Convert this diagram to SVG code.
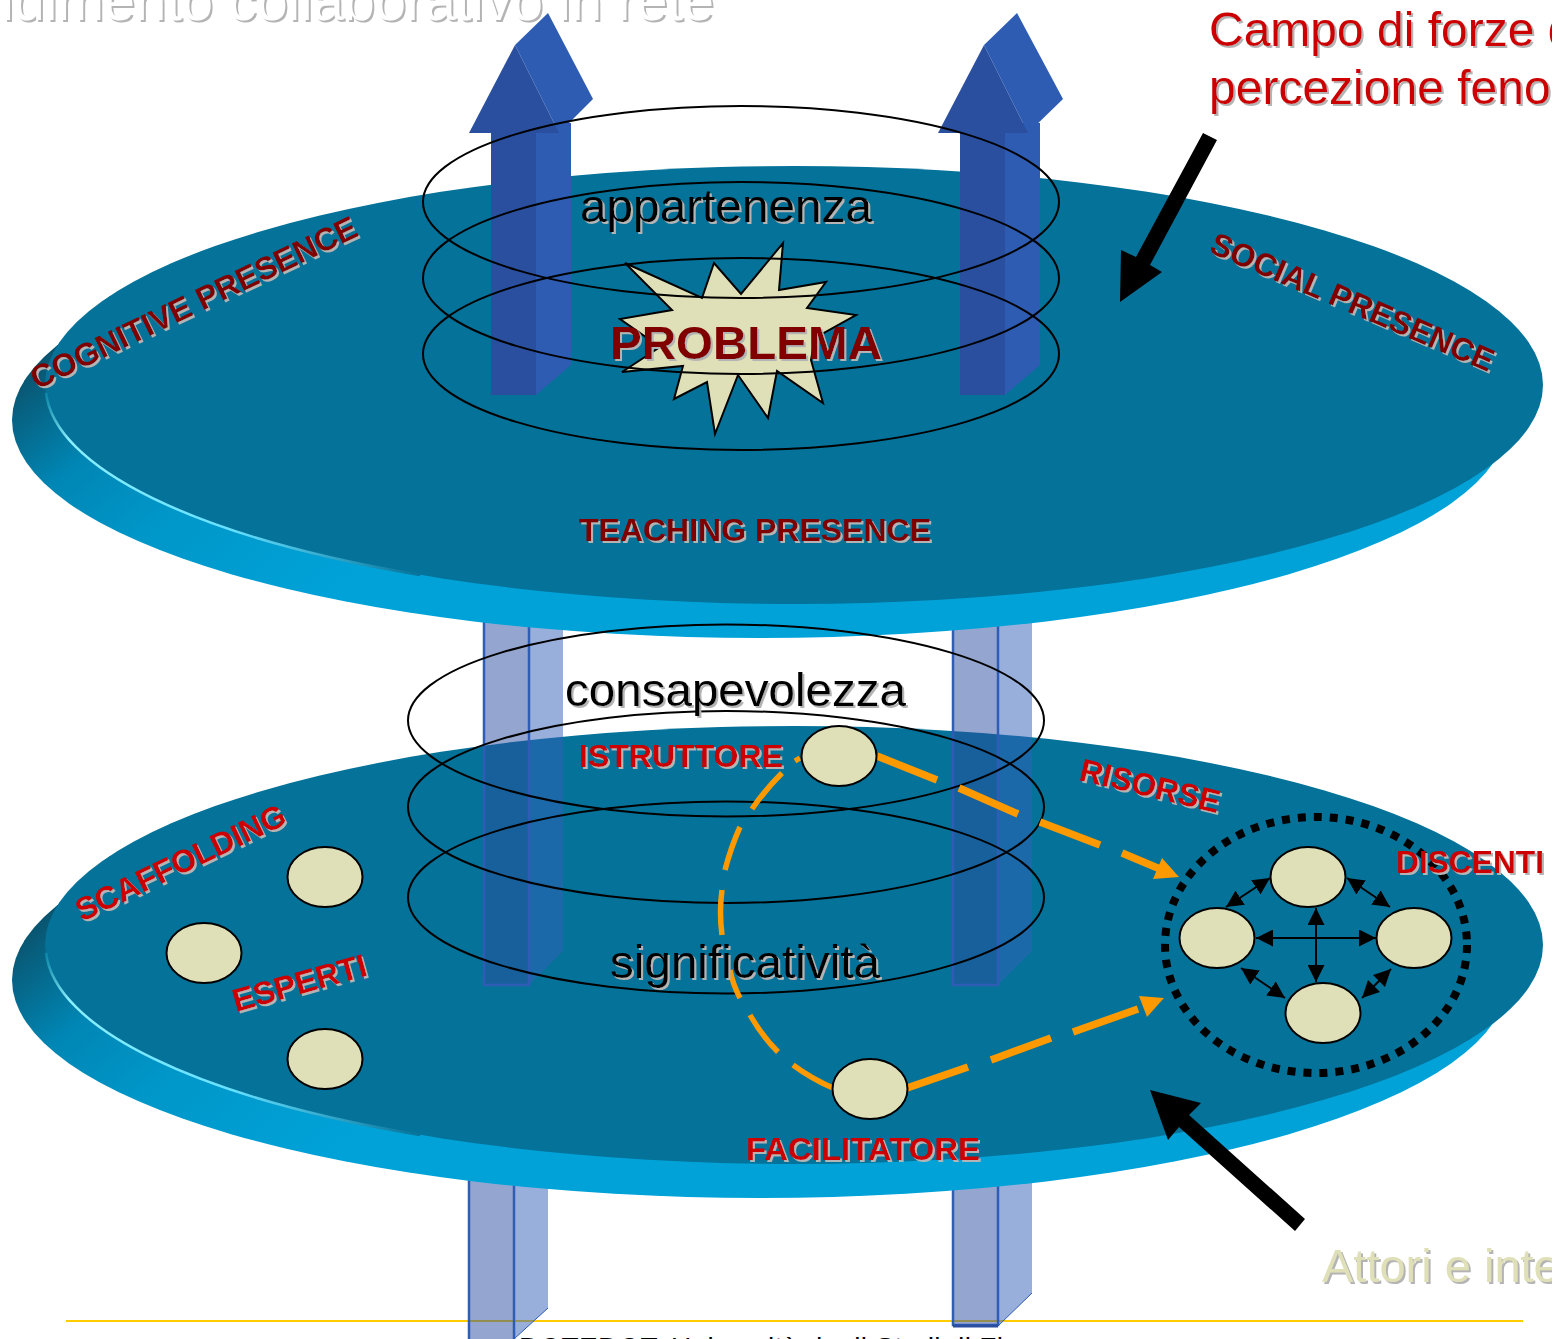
<svg xmlns="http://www.w3.org/2000/svg" xmlns:xlink="http://www.w3.org/1999/xlink" width="1552" height="1339" viewBox="0 0 1552 1339">
<style>
text{font-family:"Liberation Sans",Arial,sans-serif}
.big{font-size:47px}
.lab{font-size:32px;font-weight:700}
.dark{fill:#800000}
.red{fill:#cc0000}
.ring{fill:none;stroke:#000;stroke-width:2}
.node{fill:#e0e0b8;stroke:#000;stroke-width:2}
.front{fill:#2a4d9f;fill-opacity:.5;stroke:#2f5cb4;stroke-width:2.500}
.side{fill:#3160b8;fill-opacity:.5}
.sf{fill:#2a4f9f}
.ss{fill:#2e5cb2}
.orange{fill:none;stroke:#ff9900;stroke-width:7.500}
.thin{stroke-width:5.500}
.oh{fill:#ff9900}
.dbl{stroke:#000;stroke-width:2;fill:none;marker-start:url(#tip);marker-end:url(#tip)}
</style>
<defs>
<linearGradient id="rim" gradientUnits="userSpaceOnUse" x1="60" y1="330" x2="300" y2="620">
<stop offset="0" stop-color="#0a4f68"/><stop offset=".3" stop-color="#0086b4"/><stop offset=".55" stop-color="#0096c8"/><stop offset="1" stop-color="#00a2d8"/>
</linearGradient>
<linearGradient id="glow" gradientUnits="userSpaceOnUse" x1="46" y1="393" x2="420" y2="578">
<stop offset="0" stop-color="#0a86a8"/><stop offset=".1" stop-color="#8af0ff"/><stop offset=".55" stop-color="#66e0ff"/><stop offset="1" stop-color="#047299"/>
</linearGradient>
<filter id="sh" x="-5%" y="-30%" width="110%" height="160%"><feDropShadow dx="2" dy="2" stdDeviation="0" flood-color="#b4b4b4"/></filter>
<marker id="tip" markerUnits="userSpaceOnUse" viewBox="0 0 17 17" markerWidth="17" markerHeight="17" refX="17" refY="8.500" orient="auto-start-reverse"><path d="M0,0L17,8.500L0,17z" fill="#000"/></marker>
<g id="disc">
<path d="M110,296L24,381L60,440L110,400z" fill="url(#rim)"/>
<ellipse cx="760" cy="420" rx="748" ry="218" fill="url(#rim)"/>
<ellipse cx="794" cy="385" rx="749" ry="219" fill="#047299"/>
<path d="M46,393A748,219 0 0 0 420,575" fill="none" stroke="url(#glow)" stroke-width="2.500"/>
</g>
</defs>
<rect width="1552" height="1339" fill="#fff"/>
<path d="M66,1321H1523" stroke="#ffcc00" stroke-width="2"/>

<g id="pillars-bottom">
<path class="side" d="M514,1170H548V1308L514,1339z"/>
<path class="front" d="M469,1170H514V1345H469z"/>
<path d="M514,1339L548,1308" stroke="#2f5cb4" fill="none"/>
<path class="side" d="M998,1170H1032V1293L998,1326z"/>
<path class="front" d="M953,1170H998V1325H953z"/>
<path d="M953,1326H998" stroke="#2a4d9f" stroke-width="3" fill="none"/>
<path d="M998,1326L1032,1293" stroke="#2f5cb4" fill="none"/>
</g>

<use id="disc-lower" xlink:href="#disc" href="#disc" y="560"/>

<g id="pillars-middle">
<path class="side" d="M529,600H563V951L529,985z"/>
<path class="front" d="M484,600H529V985H484z"/>
<path class="side" d="M998,600H1032V951L998,985z"/>
<path class="front" d="M953,600H998V985H953z"/>
</g>

<use id="disc-upper" xlink:href="#disc" href="#disc"/>

<g id="arrow-left">
<path class="ss" d="M536,123H571V365L536,395z"/>
<rect class="sf" x="491" y="133" width="45" height="262"/>
<path class="ss" d="M515,45L548,13L593,99L559,133z"/>
<path class="sf" d="M515,45L469,133H559z"/>
</g>
<g id="arrow-right">
<path class="ss" d="M1005,123H1040V365L1005,395z"/>
<rect class="sf" x="960" y="133" width="45" height="262"/>
<path class="ss" d="M984,45L1017,13L1063,99L1028,133z"/>
<path class="sf" d="M984,45L938,133H1028z"/>
</g>

<g id="problema">
<path class="node" d="M625,263L702,298L714,263L741,294L783,243L779,290L826,282L807,308L856,315L815,338L811,360L823,403L777,371L768,418L738,375L715,434L707,382L674,399L683,366L622,372L660,347L620,319L672,310z"/>
</g>

<g id="rings-upper">
<ellipse class="ring" cx="741" cy="202" rx="318" ry="96"/>
<ellipse class="ring" cx="741" cy="278" rx="318" ry="96"/>
<ellipse class="ring" cx="741" cy="354" rx="318" ry="96"/>
</g>
<g id="rings-lower">
<ellipse class="ring" cx="726" cy="720.500" rx="318" ry="96"/>
<ellipse class="ring" cx="726" cy="807" rx="318" ry="96"/>
<ellipse class="ring" cx="726" cy="897.500" rx="318" ry="96"/>
</g>

<g id="connectors">
<path class="orange" d="M877,756L937,780M959,788L1018,814M1040,822L1100,845M1122,853L1160,869"/>
<path class="oh" d="M1179,877L1162,858L1153,879z"/>
<path class="orange" d="M907,1088L968,1067M991,1060L1051,1038M1073,1032L1138,1009"/>
<path class="oh" d="M1164,998L1139,996L1147,1017z"/>
<path class="orange thin" d="M800,758L795,761M782,773Q765,790 752,809M740,827Q731,847 725,870M722,890Q719,912 722,935M730,970Q733,985 740,998M750,1015Q762,1036 778,1052M793,1065Q812,1079 833,1088"/>
<path class="dbl" d="M1226,907L1270,878"/>
<path class="dbl" d="M1347,878L1390,907"/>
<path class="dbl" d="M1256,938H1376"/>
<path class="dbl" d="M1316,908V982"/>
<path class="dbl" d="M1241,968L1285,998"/>
<path class="dbl" d="M1362,998L1391,969"/>
<path fill="#000" d="M1203,133L1217,140L1150,265L1162,272L1120,302L1121,250L1136,257z"/>
<path fill="#000" d="M1150,1090L1201,1103L1189,1115L1305,1219L1295,1231L1179,1127L1168,1140z"/>
</g>

<g id="group-discenti"><ellipse cx="1316" cy="945" rx="151" ry="128" fill="none" stroke="#000" stroke-width="8" stroke-dasharray="8 8"/></g>
<g id="node-istruttore"><ellipse class="node" cx="839" cy="756" rx="37.500" ry="30"/></g>
<g id="node-facilitatore"><ellipse class="node" cx="870" cy="1089" rx="37.500" ry="30"/></g>
<g id="node-esperto-1"><ellipse class="node" cx="325" cy="877" rx="37.500" ry="30"/></g>
<g id="node-esperto-2"><ellipse class="node" cx="204" cy="953" rx="37.500" ry="30"/></g>
<g id="node-esperto-3"><ellipse class="node" cx="325" cy="1059" rx="37.500" ry="30"/></g>
<g id="node-discente-1"><ellipse class="node" cx="1308" cy="877" rx="37.500" ry="30"/></g>
<g id="node-discente-2"><ellipse class="node" cx="1217" cy="938" rx="37.500" ry="30"/></g>
<g id="node-discente-3"><ellipse class="node" cx="1414" cy="938" rx="37.500" ry="30"/></g>
<g id="node-discente-4"><ellipse class="node" cx="1323" cy="1013" rx="37.500" ry="30"/></g>

<g id="labels" filter="url(#sh)">
<text x="714" y="20" text-anchor="end" font-size="56" fill="#fff">ndimento collaborativo in rete</text>
<text class="red" font-size="48" x="1209" y="46">Campo di forze d</text>
<text class="red" font-size="48" x="1209" y="104">percezione feno</text>
<text class="big" x="580" y="222" textLength="292" lengthAdjust="spacingAndGlyphs">appartenenza</text>
<text class="big" x="565" y="706" textLength="341" lengthAdjust="spacingAndGlyphs">consapevolezza</text>
<text class="big" x="610" y="978" textLength="270" lengthAdjust="spacingAndGlyphs">significatività</text>
<text class="big" x="1322" y="1282" fill="#e0e0b8">Attori e inte</text>
<text class="big dark" style="font-weight:700" x="610" y="359" textLength="272" lengthAdjust="spacingAndGlyphs">PROBLEMA</text>
<text class="lab dark" transform="translate(37,390) rotate(-25.600)" textLength="358" lengthAdjust="spacingAndGlyphs">COGNITIVE PRESENCE</text>
<text class="lab dark" transform="translate(1208,252) rotate(23.200)" textLength="305" lengthAdjust="spacingAndGlyphs">SOCIAL PRESENCE</text>
<text class="lab dark" x="579" y="541" textLength="352" lengthAdjust="spacingAndGlyphs">TEACHING PRESENCE</text>
<text class="lab red" x="579" y="767" textLength="204" lengthAdjust="spacingAndGlyphs">ISTRUTTORE</text>
<text class="lab red" transform="translate(1078,780) rotate(13.400)" textLength="143" lengthAdjust="spacingAndGlyphs">RISORSE</text>
<text class="lab red" x="1396" y="873" textLength="148" lengthAdjust="spacingAndGlyphs">DISCENTI</text>
<text class="lab red" transform="translate(82,922) rotate(-25.600)" textLength="229" lengthAdjust="spacingAndGlyphs">SCAFFOLDING</text>
<text class="lab red" transform="translate(236,1012) rotate(-15.500)" textLength="138" lengthAdjust="spacingAndGlyphs">ESPERTI</text>
<text class="lab red" x="746" y="1160" textLength="234" lengthAdjust="spacingAndGlyphs">FACILITATORE</text>
</g>
<text id="footer" x="519" y="1357" font-size="28" fill="#000" textLength="484" lengthAdjust="spacing">DOTEDOT: Università degli Studi di Fi</text>
</svg>
